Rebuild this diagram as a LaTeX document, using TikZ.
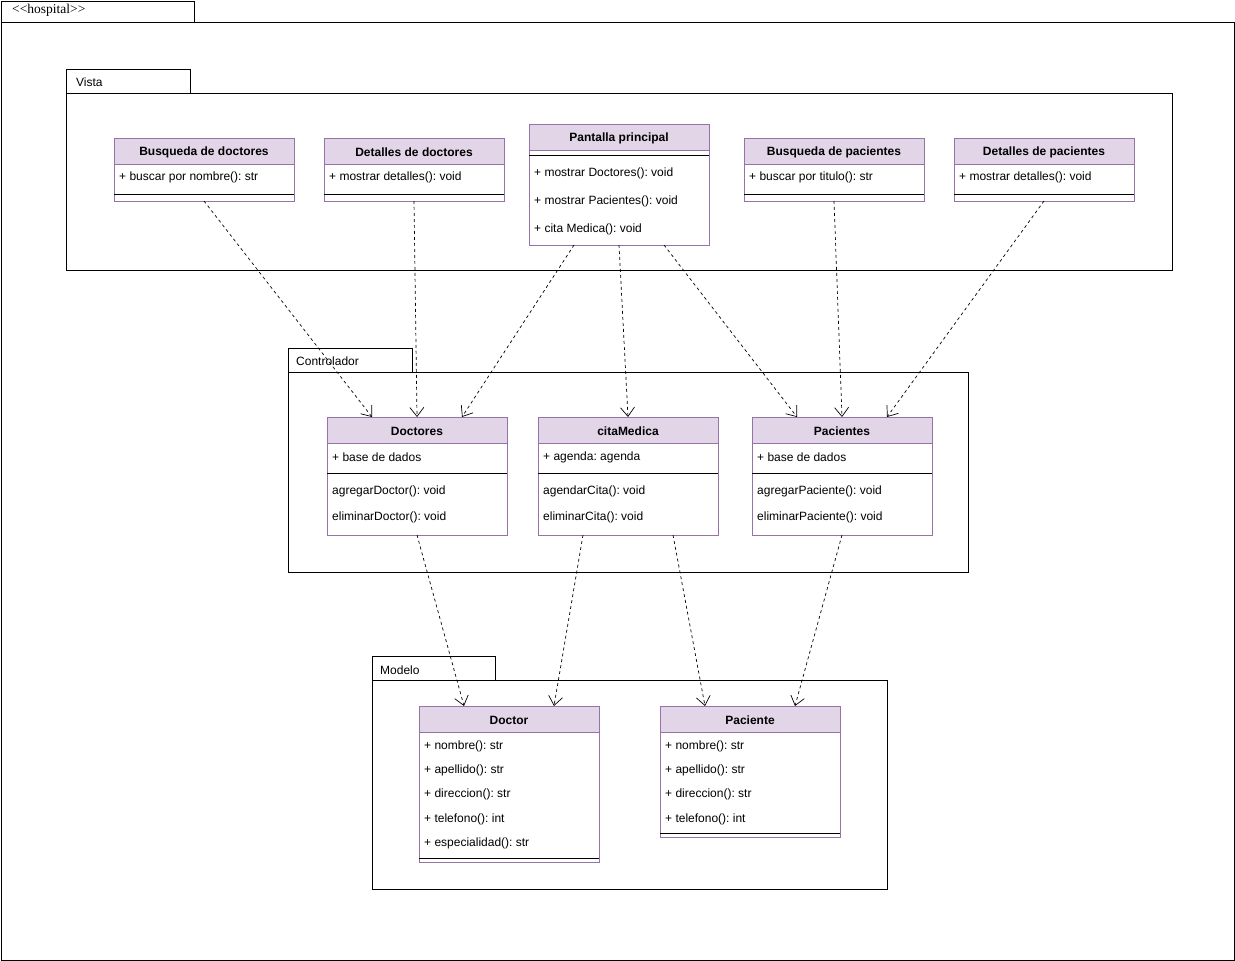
\documentclass[tikz,border=0pt]{standalone}
\usepackage{fontspec}
\setmainfont{Liberation Sans}
\newfontfamily\serifx{Liberation Serif}
\usetikzlibrary{arrows.meta,calc}
\frenchspacing
\definecolor{umlp}{HTML}{9673A6}
\definecolor{umlf}{HTML}{E1D5E7}
\tikzset{
  clsbox/.style={draw=umlp, fill=white, line width=1pt, anchor=north west, minimum width=180pt, inner sep=0pt, outer sep=0pt},
  ttl/.style={font=\fontsize{12}{14}\selectfont\bfseries, inner sep=0pt},
  txt/.style={font=\fontsize{12}{14}\selectfont, anchor=west, inner sep=0pt},
  pkglbl/.style={font=\fontsize{12}{14}\selectfont, anchor=west, inner sep=0pt},
  pkgline/.style={draw=black, line width=1pt},
  sepline/.style={draw=black, line width=1pt},
  dep/.style={draw=black, line width=0.7pt, dash pattern=on 3pt off 3pt, -{Straight Barb[length=9pt,width=14pt]}},
}
\newcommand\umlclass[5]{%
  \node[clsbox, minimum height=#4] (#1) at (#2,#3) {};
  \draw[umlp, fill=umlf, line width=1pt] (#2,#3) rectangle ++(180,26);
  \node[ttl] (#1-t) at ($(#1.north)+(0,14)$) {#5};
}
\begin{document}
\begin{tikzpicture}[x=1pt,y=-1pt]
\useasboundingbox (0,0) rectangle (1235,961);
% outer package
\draw[pkgline] (1,1) rectangle (194,22);
\draw[pkgline] (1,22) rectangle (1234,960);
\node[anchor=west, inner sep=0pt, font=\serifx\fontsize{13.5}{15}\selectfont] (hosp) at (12,10) {<<hospital>>};
% Vista
\draw[pkgline] (66,69) rectangle (190,93);
\draw[pkgline] (66,93) rectangle (1172,270);
\node[pkglbl] (vista) at (76,82.5) {Vista};
% Controlador
\draw[pkgline] (288,348) rectangle (412,372);
\draw[pkgline] (288,372) rectangle (968,572);
\node[pkglbl] (ctrl) at (296,361.5) {Controlador};
% Modelo
\draw[pkgline] (372,656) rectangle (495,680);
\draw[pkgline] (372,680) rectangle (887,889);
\node[pkglbl] (modelo) at (380,670.5) {Modelo};

% Vista classes
\umlclass{bd}{114}{138}{63}{Busqueda de doctores}
\node[txt] (bd-a) at (119,177.5) {+ buscar por nombre(): str};
\draw[sepline] (114,194) -- ++(180,0);

\umlclass{dd}{324}{138}{63}{Detalles de doctores}
\node[txt] (dd-a) at (329,177.5) {+ mostrar detalles(): void};
\draw[sepline] (324,194) -- ++(180,0);

\umlclass{pp}{529}{124}{121}{Pantalla principal}
\draw[sepline] (529,155) -- ++(180,0);
\node[txt] (pp-m1) at (534,173.5) {+ mostrar Doctores(): void};
\node[txt] (pp-m2) at (534,201.5) {+ mostrar Pacientes(): void};
\node[txt] (pp-m3) at (534,229.5) {+ cita Medica(): void};

\umlclass{bp}{744}{138}{63}{Busqueda de pacientes}
\node[txt] (bp-a) at (749,177.5) {+ buscar por titulo(): str};
\draw[sepline] (744,194) -- ++(180,0);

\umlclass{dp}{954}{138}{63}{Detalles de pacientes}
\node[txt] (dp-a) at (959,177.5) {+ mostrar detalles(): void};
\draw[sepline] (954,194) -- ++(180,0);

% Controlador classes
\umlclass{cdoc}{327}{417}{118}{Doctores}
\node[txt] (cdoc-a) at (332,457.5) {+ base de dados};
\draw[sepline] (327,473) -- ++(180,0);
\node[txt] (cdoc-m1) at (332,491.5) {agregarDoctor(): void};
\node[txt] (cdoc-m2) at (332,517.5) {eliminarDoctor(): void};

\umlclass{cita}{538}{417}{118}{citaMedica}
\node[txt] (cita-a) at (543,457.5) {+ agenda: agenda};
\draw[sepline] (538,473) -- ++(180,0);
\node[txt] (cita-m1) at (543,491.5) {agendarCita(): void};
\node[txt] (cita-m2) at (543,517.5) {eliminarCita(): void};

\umlclass{cpac}{752}{417}{118}{Pacientes}
\node[txt] (cpac-a) at (757,457.5) {+ base de dados};
\draw[sepline] (752,473) -- ++(180,0);
\node[txt] (cpac-m1) at (757,491.5) {agregarPaciente(): void};
\node[txt] (cpac-m2) at (757,517.5) {eliminarPaciente(): void};

% Modelo classes
\umlclass{mdoc}{419}{706}{156}{Doctor}
\node[txt] (mdoc-a1) at (424,746.5) {+ nombre(): str};
\node[txt] (mdoc-a2) at (424,770.5) {+ apellido(): str};
\node[txt] (mdoc-a3) at (424,794.5) {+ direccion(): str};
\node[txt] (mdoc-a4) at (424,819.5) {+ telefono(): int};
\node[txt] (mdoc-a5) at (424,843.5) {+ especialidad(): str};
\draw[sepline] (419,858.5) -- ++(180,0);

\umlclass{mpac}{660}{706}{131}{Paciente}
\node[txt] (mpac-a1) at (665,746.5) {+ nombre(): str};
\node[txt] (mpac-a2) at (665,770.5) {+ apellido(): str};
\node[txt] (mpac-a3) at (665,794.5) {+ direccion(): str};
\node[txt] (mpac-a4) at (665,819.5) {+ telefono(): int};
\draw[sepline] (660,833.5) -- ++(180,0);

% dependencies Vista -> Controlador
\draw[dep] (bd.south) -- ($(cdoc.north)+(-45,0)$);
\draw[dep] (dd.south) -- (cdoc.north);
\draw[dep] ($(pp.south)+(-45,0)$) -- ($(cdoc.north)+(45,0)$);
\draw[dep] (pp.south) -- (cita.north);
\draw[dep] ($(pp.south)+(45,0)$) -- ($(cpac.north)+(-45,0)$);
\draw[dep] (bp.south) -- (cpac.north);
\draw[dep] (dp.south) -- ($(cpac.north)+(45,0)$);
% dependencies Controlador -> Modelo
\draw[dep] (cdoc.south) -- ($(mdoc.north)+(-45,0)$);
\draw[dep] ($(cita.south)+(-45,0)$) -- ($(mdoc.north)+(45,0)$);
\draw[dep] ($(cita.south)+(45,0)$) -- ($(mpac.north)+(-45,0)$);
\draw[dep] (cpac.south) -- ($(mpac.north)+(45,0)$);
\end{tikzpicture}
\end{document}
